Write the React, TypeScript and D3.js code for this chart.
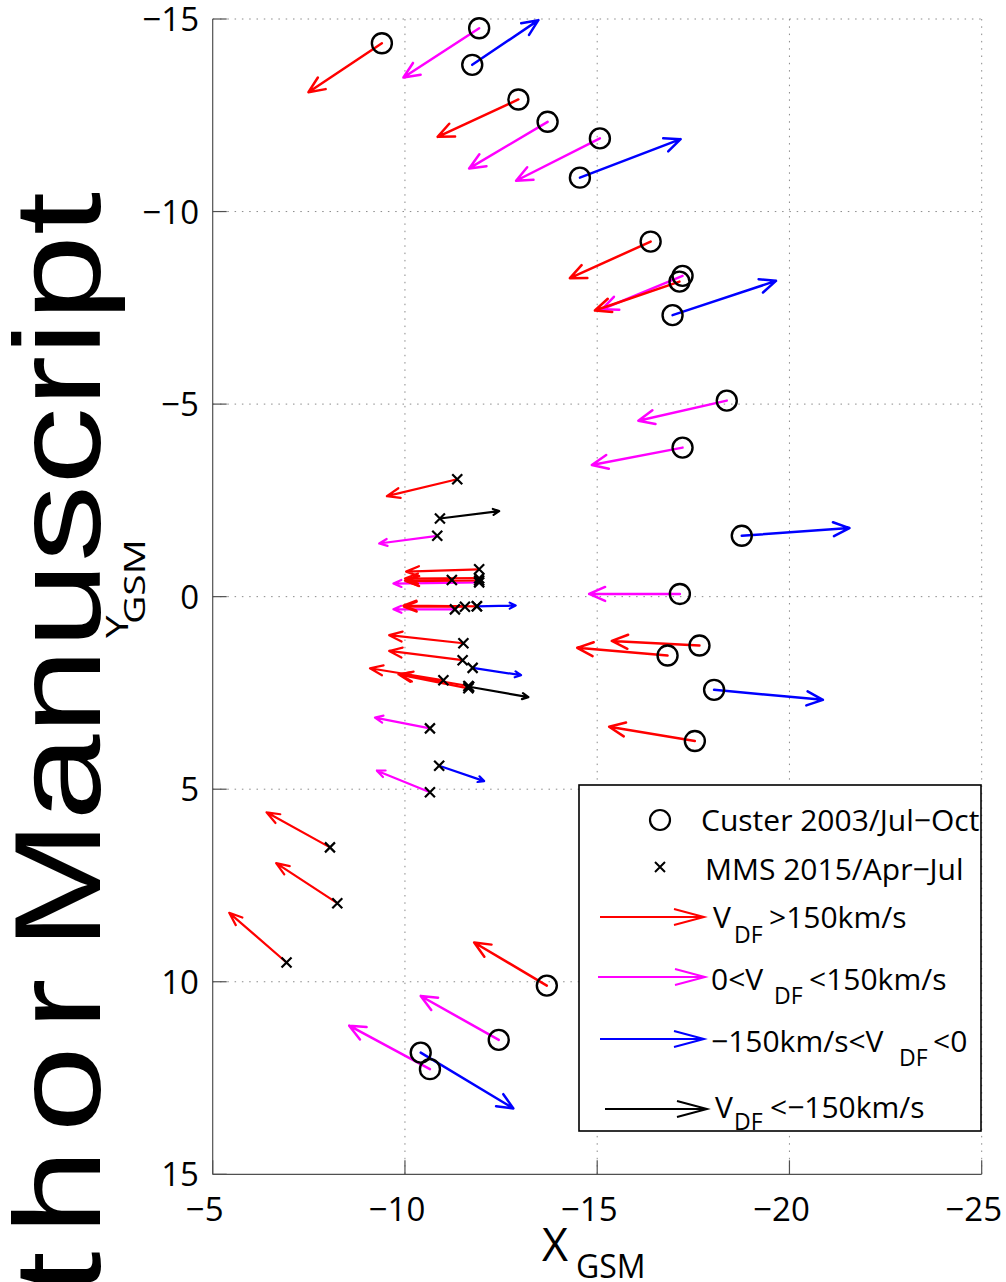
import React from "react";
import * as d3 from "d3";

// ---------- data ----------
const xTicks = [-5, -10, -15, -20, -25];
const yTicks = [-15, -10, -5, 0, 5, 10, 15];

// Cluster events: start position (X,Y GSM, RE) and flow vector (dX, dY)
const clusterX0 = [-9.40, -11.93, -11.75, -12.95, -13.71, -15.07, -14.55, -16.39, -17.22, -17.14, -16.96, -18.37, -17.22, -18.76, -17.15, -17.66, -16.83, -18.04, -17.54, -13.69, -12.44, -10.65, -10.41];
const clusterY0 = [-14.37, -14.76, -13.81, -12.91, -12.33, -11.90, -10.88, -9.22, -8.33, -8.18, -7.31, -5.09, -3.87, -1.58, -0.07, 1.27, 1.53, 2.42, 3.75, 10.10, 11.51, 12.27, 11.84];
const clusterU = [1.91, 1.97, -1.72, 2.10, 2.04, 2.18, -2.62, 2.10, 2.10, 2.20, -2.69, 2.30, 2.36, -2.80, 2.36, 2.28, 2.35, -2.83, 2.23, 1.89, 2.03, 2.10, -2.41];
const clusterV = [1.27, 1.28, -1.16, 0.97, 1.21, 1.10, -1.00, 0.95, 0.87, 0.75, -0.89, 0.52, 0.45, -0.20, 0.00, -0.12, -0.20, 0.26, -0.37, -1.12, -1.14, -1.13, 1.45];
const clusterCat = ["r", "m", "b", "r", "m", "m", "b", "r", "m", "r", "b", "m", "m", "b", "m", "r", "r", "b", "r", "r", "m", "m", "b"];

// MMS events
const mmsX0 = [-8.05, -8.24, -6.92, -11.36, -10.91, -10.84, -11.93, -11.93, -11.93, -11.22, -11.93, -11.87, -11.56, -11.30, -11.87, -11.52, -11.50, -11.76, -11.00, -11.65, -11.65, -11.67, -10.65, -10.89, -10.65];
const mmsY0 = [6.51, 7.96, 9.50, -3.05, -2.03, -1.58, -0.71, -0.48, -0.42, -0.43, -0.37, 0.25, 0.26, 0.33, 0.25, 1.21, 1.65, 1.85, 2.17, 2.32, 2.38, 2.34, 3.42, 4.39, 5.08];
const mmsU = [1.65, 1.59, 1.49, 1.83, -1.54, 1.51, 1.90, 1.93, 1.90, 1.22, 2.23, 1.91, 1.59, 1.60, -1.01, 1.93, 1.91, -1.26, 1.91, 1.78, 1.82, -1.54, 1.43, -1.17, 1.38];
const mmsV = [-0.91, -1.04, -1.29, 0.44, -0.19, 0.20, 0.06, 0.01, 0.02, 0.01, 0.03, -0.02, 0.00, 0.00, -0.02, -0.21, -0.24, 0.19, -0.31, -0.30, -0.36, 0.27, -0.28, 0.40, -0.56];
const mmsCat = ["r", "r", "r", "r", "k", "m", "r", "r", "r", "r", "m", "r", "r", "m", "b", "r", "r", "b", "r", "r", "r", "k", "m", "b", "m"];

const legendMarkers = ["Custer 2003/Jul\u2212Oct", "MMS 2015/Apr\u2212Jul"];

const COLORS: Record<string, string> = { r: "#ff0000", m: "#ff00ff", b: "#0000ff", k: "#000000" };
const FONT = "'Open Sans', 'Noto Sans', sans-serif";

// ---------- scales ----------
const x = d3.scaleLinear().domain([-5, -25]).range([212.7, 981.7]);
const y = d3.scaleLinear().domain([-15, 15]).range([19, 1174.3]);

function arrowPath(x0: number, y0: number, x1: number, y1: number, L: number, W: number) {
  const dx = x1 - x0, dy = y1 - y0;
  const len = Math.hypot(dx, dy) || 1;
  const ux = dx / len, uy = dy / len;
  const nx = -uy, ny = ux;
  const bx = x1 - L * ux, by = y1 - L * uy;
  const p = d3.path();
  p.moveTo(x0, y0);
  p.lineTo(x1, y1);
  p.moveTo(bx + W * nx, by + W * ny);
  p.lineTo(x1, y1);
  p.lineTo(bx - W * nx, by - W * ny);
  return p.toString();
}

function mmsHead(cat: string) {
  if (cat === "r") return [13, 5];
  if (cat === "m") return [8, 3.5];
  return [6, 3];
}

export default function App() {
  const minus = (v: number) => (v < 0 ? "\u2212" + Math.abs(v) : String(v));
  const mmsOrder = d3.range(mmsX0.length).sort((a, b) => {
    const rank: Record<string, number> = { m: 0, b: 1, k: 2, r: 3 };
    return rank[mmsCat[a]] - rank[mmsCat[b]];
  });

  return (
    <svg width={1006} height={1282} style={{ position: "absolute", left: 0, top: 0, background: "#fff" }}>
      <rect width={1006} height={1282} fill="#fff" />
      {/* watermark */}
      <g fontFamily="'Liberation Sans', Arial, sans-serif" fontSize={123} fill="#000">
        <text transform="translate(100,192) rotate(-90) scale(1.26,1)" textAnchor="end">
          Manuscript
        </text>
        <text transform="translate(100,962) rotate(-90) scale(1.26,1)" textAnchor="end" letterSpacing={13}>
          Author
        </text>
      </g>

      {/* grid */}
      <g stroke="#8a8a8a" strokeWidth={1} strokeDasharray="1.5,5.8">
        {xTicks.filter((t) => t !== -5).map((t) => (
          <line key={"gx" + t} x1={x(t)} x2={x(t)} y1={y(-15)} y2={y(15)} />
        ))}
        {yTicks.filter((t) => t !== 15).map((t) => (
          <line key={"gy" + t} x1={x(-5)} x2={x(-25)} y1={y(t)} y2={y(t)} />
        ))}
      </g>

      {/* axes */}
      <g stroke="#505050" strokeWidth={1.2}>
        <line x1={x(-5)} x2={x(-5)} y1={y(-15)} y2={y(15)} />
        <line x1={x(-5)} x2={x(-25)} y1={y(15)} y2={y(15)} />
        {xTicks.map((t) => (
          <line key={"tx" + t} x1={x(t)} x2={x(t)} y1={y(15)} y2={y(15) - 14} />
        ))}
        {yTicks.map((t) => (
          <line key={"ty" + t} x1={x(-5)} x2={x(-5) + 14} y1={y(t)} y2={y(t)} />
        ))}
      </g>
      <g fontFamily={FONT} fontSize={33} fill="#000">
        {xTicks.map((t) => (
          <text key={"lx" + t} x={x(t) - 8} y={1221} textAnchor="middle">
            {minus(t)}
          </text>
        ))}
        {yTicks.map((t) => (
          <text key={"ly" + t} x={199} y={y(t) + 12} textAnchor="end">
            {minus(t)}
          </text>
        ))}
      </g>

      {/* axis labels */}
      <g fontFamily={FONT} fill="#000">
        <text x={542} y={1261} fontSize={45}>X</text>
        <text x={576} y={1278} fontSize={32}>GSM</text>
        <text transform="translate(128,638) rotate(-90) scale(1.3,1)" fontSize={31}>Y</text>
        <text transform="translate(145,624) rotate(-90) scale(1.3,1)" fontSize={30}>GSM</text>
      </g>

      {/* Cluster arrows */}
      <g fill="none" strokeWidth={2.5} strokeLinecap="round" strokeLinejoin="round">
        {clusterX0.map((x0, i) => (
          <path
            key={"ca" + i}
            d={arrowPath(x(x0), y(clusterY0[i]), x(x0 + clusterU[i]), y(clusterY0[i] + clusterV[i]), 16, 7)}
            stroke={COLORS[clusterCat[i]]}
          />
        ))}
      </g>
      {/* MMS arrows */}
      <g fill="none" strokeWidth={2.2} strokeLinecap="round" strokeLinejoin="round">
        {mmsOrder.map((i) => {
          const [L, W] = mmsHead(mmsCat[i]);
          return (
            <path
              key={"ma" + i}
              d={arrowPath(x(mmsX0[i]), y(mmsY0[i]), x(mmsX0[i] + mmsU[i]), y(mmsY0[i] + mmsV[i]), L, W)}
              stroke={COLORS[mmsCat[i]]}
            />
          );
        })}
      </g>
      {/* markers */}
      <g fill="none" stroke="#000" strokeWidth={2.4}>
        {clusterX0.map((x0, i) => (
          <circle key={"cc" + i} cx={x(x0)} cy={y(clusterY0[i])} r={10} />
        ))}
      </g>
      <g stroke="#000" strokeWidth={2.2}>
        {mmsX0.map((x0, i) => {
          const cx = x(x0), cy = y(mmsY0[i]);
          return (
            <path key={"mx" + i} d={`M${cx - 5},${cy - 5}L${cx + 5},${cy + 5}M${cx - 5},${cy + 5}L${cx + 5},${cy - 5}`} />
          );
        })}
      </g>

      {/* legend */}
      <rect x={579} y={785} width={402} height={346} fill="#fff" stroke="#000" strokeWidth={1.6} />
      <circle cx={660} cy={820} r={10} fill="none" stroke="#000" strokeWidth={2.2} />
      <path d="M655,862L665,872M655,872L665,862" stroke="#000" strokeWidth={2} />
      <g fontFamily={FONT} fontSize={30} fill="#000">
        <text x={701} y={831}>{legendMarkers[0]}</text>
        <text x={705} y={880}>{legendMarkers[1]}</text>

        <text x={713} y={928}>V</text>
        <text x={734} y={943} fontSize={23}>DF</text>
        <text x={769} y={928}>&gt;150km/s</text>

        <text x={711} y={990}>0&lt;V</text>
        <text x={774} y={1004} fontSize={23}>DF</text>
        <text x={809} y={990}>&lt;150km/s</text>

        <text x={711} y={1052}>{"\u2212150km/s<V"}</text>
        <text x={899} y={1066} fontSize={23}>DF</text>
        <text x={933} y={1052}>&lt;0</text>

        <text x={715} y={1118}>V</text>
        <text x={734} y={1130} fontSize={23}>DF</text>
        <text x={770} y={1118}>{"<\u2212150km/s"}</text>
      </g>
      <g fill="none" strokeWidth={2}>
        {["r", "m", "b", "k"].map((c, i) => {
          const yy = [917, 977, 1039, 1109][i];
          const x0 = [600, 598, 600, 605][i];
          const x1 = [704, 705, 704, 707][i];
          return <path key={"lg" + c} d={arrowPath(x0, yy, x1, yy, 30, 8)} stroke={COLORS[c]} />;
        })}
      </g>
    </svg>
  );
}
